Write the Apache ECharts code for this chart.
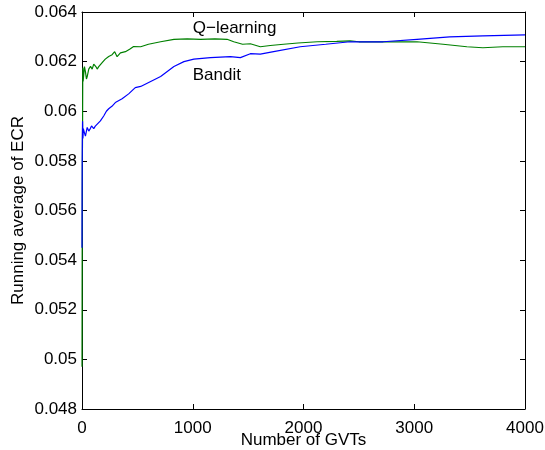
<!DOCTYPE html>
<html>
<head>
<meta charset="utf-8">
<script src="https://cdn.jsdelivr.net/npm/echarts@6/dist/echarts.min.js"></script>
<style>
  html, body { margin: 0; padding: 0; background: #fff; }
  #chart { width: 545px; height: 450px; }
</style>
</head>
<body>
<div id="chart"></div>
<script>
// Q-learning running average (GVT count, ECR)
const qGvt = [0, 1, 2, 3, 5, 7, 10, 16, 22, 31, 40, 47, 61, 77, 92, 106, 125, 137, 151, 182, 210, 241, 272, 295, 317, 347, 392, 430, 466, 530, 600, 710, 830, 950, 1070, 1200, 1310, 1370, 1450, 1520, 1610, 1700, 1820, 1950, 2125, 2300, 2420, 2500, 2720, 3025, 3260, 3475, 3620, 3800, 4000];
const qEcr = [0.0497, 0.0525, 0.0555, 0.0578, 0.0592, 0.06175, 0.0612, 0.06128, 0.0618, 0.0616, 0.0613, 0.0614, 0.0617, 0.06181, 0.0617, 0.0619, 0.0618, 0.0617, 0.0618, 0.06196, 0.0621, 0.06221, 0.06228, 0.0624, 0.0622, 0.06235, 0.0624, 0.0625, 0.06261, 0.0626, 0.0627, 0.0628, 0.0629, 0.06292, 0.0629, 0.06292, 0.0629, 0.0628, 0.0627, 0.06272, 0.0626, 0.06265, 0.0627, 0.06275, 0.0628, 0.06282, 0.06284, 0.0628, 0.0628, 0.0628, 0.0627, 0.0626, 0.06256, 0.0626, 0.0626];

// Bandit running average
const bGvt = [0, 1, 2, 3, 5, 8, 12, 16, 24, 31, 40, 47, 61, 75, 86, 106, 120, 137, 166, 196, 220, 241, 270, 301, 362, 421, 481, 530, 620, 710, 830, 920, 1010, 1160, 1340, 1430, 1520, 1610, 1730, 1970, 2200, 2420, 2720, 3025, 3320, 3620, 4000];
const bEcr = [0.0545, 0.0566, 0.0581, 0.0589, 0.0596, 0.0589, 0.0593, 0.0593, 0.0591, 0.0590, 0.0592, 0.05935, 0.0592, 0.0593, 0.05941, 0.0593, 0.0594, 0.05948, 0.05961, 0.05981, 0.0600, 0.0601, 0.0602, 0.06035, 0.0605, 0.0607, 0.06095, 0.061, 0.0612, 0.0614, 0.0618, 0.0620, 0.0621, 0.06216, 0.0622, 0.06216, 0.06232, 0.0623, 0.0624, 0.0626, 0.0627, 0.0628, 0.0628, 0.0629, 0.063, 0.06304, 0.06308];

const xTicks = [0, 1000, 2000, 3000, 4000];
const yTicks = [0.048, 0.05, 0.052, 0.054, 0.056, 0.058, 0.06, 0.062, 0.064];

const font = 'Liberation Sans, Arial, Helvetica, sans-serif';

const chart = echarts.init(document.getElementById('chart'));

const pairs = (xs, ys) => xs.map((x, i) => [x, ys[i]]);

// box around the plot like matlab: ticks pointing inward on all four sides
const axisCommon = {
    axisLine: { show: true, onZero: false, lineStyle: { color: '#000', width: 1 } },
    axisTick: { show: true, inside: true, length: 5, lineStyle: { color: '#000' } },
    splitLine: { show: false }
};

chart.setOption({
    animation: false,
    backgroundColor: '#fff',
    grid: { left: 82, right: 20, top: 12, bottom: 41, containLabel: false, outerBoundsMode: 'none' },
    xAxis: [
        Object.assign({
            type: 'value', min: 0, max: 4000, interval: 1000,
            name: 'Number of GVTs', nameLocation: 'middle', nameGap: 23, nameMoveOverlap: false,
            nameTextStyle: { color: '#000', fontSize: 17, fontFamily: font },
            axisLabel: { color: '#000', fontSize: 17, fontFamily: font, margin: 11,
                formatter: v => xTicks.includes(v) ? String(v) : '' }
        }, axisCommon),
        Object.assign({
            type: 'value', min: 0, max: 4000, interval: 1000, position: 'top',
            axisLabel: { show: false }
        }, axisCommon)
    ],
    yAxis: [
        Object.assign({
            type: 'value', min: 0.048, max: 0.064, interval: 0.002,
            name: 'Running average of ECR', nameLocation: 'middle', nameGap: 55, nameMoveOverlap: false,
            nameTextStyle: { color: '#000', fontSize: 17, fontFamily: font },
            axisLabel: { color: '#000', fontSize: 17, fontFamily: font, margin: 5,
                formatter: v => yTicks.some(t => Math.abs(t - v) < 1e-9) ? String(+v.toFixed(3)) : '' }
        }, axisCommon),
        Object.assign({
            type: 'value', min: 0.048, max: 0.064, interval: 0.002, position: 'right',
            axisLabel: { show: false }
        }, axisCommon)
    ],
    series: [
        {
            name: 'Q-learning', type: 'line', showSymbol: false, symbol: 'none',
            data: pairs(qGvt, qEcr),
            lineStyle: { color: '#008000', width: 1.2 }
        },
        {
            name: 'Bandit', type: 'line', showSymbol: false, symbol: 'none',
            data: pairs(bGvt, bEcr),
            lineStyle: { color: '#0000ff', width: 1.2 }
        }
    ]
});

// text labels next to the curves, placed in data coordinates
const qPos = chart.convertToPixel({ xAxisIndex: 0, yAxisIndex: 0 }, [1000, 0.0633]);
const bPos = chart.convertToPixel({ xAxisIndex: 0, yAxisIndex: 0 }, [1000, 0.0614]);
chart.setOption({
    graphic: [
        { type: 'text', left: qPos[0], top: qPos[1] - 10,
          style: { text: 'Q\u2212learning', fill: '#000', font: '17px ' + font } },
        { type: 'text', left: bPos[0], top: bPos[1] - 10,
          style: { text: 'Bandit', fill: '#000', font: '17px ' + font } }
    ]
});
</script>
</body>
</html>
